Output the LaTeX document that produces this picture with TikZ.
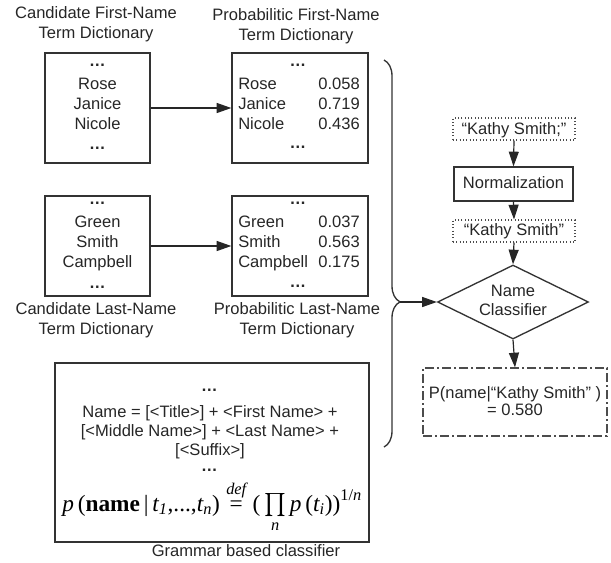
\documentclass[tikz,border=0pt]{standalone}
\usepackage{fontspec}
\usepackage{amsmath}
\setmainfont{Liberation Sans}
\newfontfamily\tms{Liberation Serif}
\newcommand\fti[1]{\text{\tms\itshape #1}}
\newcommand\ftr[1]{\text{\tms #1}}
\usetikzlibrary{shapes.geometric,arrows.meta,decorations.pathreplacing}
\tikzset{
  t/.style={font=\fontsize{12.4}{14}\selectfont, text=black!85, inner sep=0pt, text height=0.716em, text depth=0pt},
  tw/.style={t, anchor=west},
  te/.style={t, anchor=east},
  dd/.style={font=\fontsize{12.4}{14}\selectfont\bfseries, text=black!85, inner sep=0pt},
  sz/.style 2 args={minimum width=#1*0.75pt, minimum height=#2*0.75pt},
  box/.style={draw=black!80, line width=1pt, rectangle, inner sep=0pt},
  dotbox/.style={draw=black!70, line width=0.9pt, dash pattern=on 0.8pt off 1.7pt, rectangle, inner sep=0pt},
  ddbox/.style={draw=black!70, line width=0.9pt, dash pattern=on 6.75pt off 2.25pt on 1.5pt off 2.25pt, rectangle, inner sep=0pt},
  arr/.style={draw=black!85, line width=0.9pt, -{Triangle[length=11pt,width=7.5pt]}},
}
\begin{document}
\begin{tikzpicture}[x=0.75pt,y=-0.75pt]
\useasboundingbox (0,0) rectangle (611,562);

% ---- titles
\node[t] (t1a) at (96,14) {Candidate First-Name};
\node[t] (t1b) at (96,34) {Term Dictionary};
\node[t] (t2a) at (296,16) {Probabilitic First-Name};
\node[t] (t2b) at (296,36) {Term Dictionary};
\node[t] (t3a) at (96,310) {Candidate Last-Name};
\node[t] (t3b) at (96,330) {Term Dictionary};
\node[t] (t4a) at (297,310) {Probabilitic Last-Name};
\node[t] (t4b) at (297,330) {Term Dictionary};

% ---- dictionary boxes
\node[box, sz={105}{110}] (cf) at (97.5,108) {};
\node[box, sz={136}{110}] (pf) at (300,108) {};
\node[box, sz={105}{100}] (cl) at (97.5,246) {};
\node[box, sz={136}{100}] (pl) at (300,246) {};

\node[dd] (cf0) at (97.5,65) {…};
\node[t] (cf1) at (97.5,85) {Rose};
\node[t] (cf2) at (97.5,105) {Janice};
\node[t] (cf3) at (97.5,125) {Nicole};
\node[dd] (cf4) at (97.5,148) {…};

\node[dd] (pf0) at (298,65) {…};
\node[tw] (pf1) at (238,85) {Rose};
\node[tw] (pf2) at (238,105) {Janice};
\node[tw] (pf3) at (238,125) {Nicole};
\node[te] (pv1) at (360,85) {0.058};
\node[te] (pv2) at (360,105) {0.719};
\node[te] (pv3) at (360,125) {0.436};
\node[dd] (pf4) at (298,147) {…};

\node[dd] (cl0) at (97.5,203) {…};
\node[t] (cl1) at (97.5,223) {Green};
\node[t] (cl2) at (97.5,243) {Smith};
\node[t] (cl3) at (97.5,263) {Campbell};
\node[dd] (cl4) at (97.5,287) {…};

\node[dd] (pl0) at (298,203) {…};
\node[tw] (pl1) at (238,223) {Green};
\node[tw] (pl2) at (238,243) {Smith};
\node[tw] (pl3) at (238,263) {Campbell};
\node[te] (lv1) at (360,223) {0.037};
\node[te] (lv2) at (360,243) {0.563};
\node[te] (lv3) at (360,263) {0.175};
\node[dd] (pl4) at (298,286) {…};

\draw[arr] (cf.east) -- (pf.west);
\draw[arr] (cl.east) -- (pl.west);

% ---- grammar box
\node[box, sz={314}{179}] (gb) at (212,452.5) {};
\node[dd] (g0) at (209.5,390) {…};
\node[t] (g1) at (210,413) {Name = [<Title>] + <First Name> +};
\node[t] (g2) at (210,432) {[<Middle Name>] + <Last Name> +};
\node[t] (g3) at (210,451) {[<Suffix>]};
\node[dd] (g4) at (209.5,470) {…};
\node[anchor=base west, inner sep=0pt, text=black] (gf) at (62,511)
  {\fontsize{17.5}{20}\selectfont $\fti{p}\,\ftr{(}\text{\tms\bfseries name}\,\ftr{|}\,\fti{t}_{\fti{1}}\ftr{,...,}\fti{t}_{\fti{n}}\ftr{)}\stackrel{\fti{def}}{\ftr{=}}\ftr{(}\prod\limits_{\fti{n}}\fti{p}\,\ftr{(}\fti{t}_{\fti{i}}\ftr{))}^{\ftr{1/}\fti{n}}$};
\node[t] (gc) at (246,552) {Grammar based classifier};

% ---- brace
\draw[draw=black!80, line width=1pt, decorate, decoration={brace, amplitude=12pt, aspect=0.625}]
  (384,60) -- (384,447);
\coordinate (bt) at (400,302);

% ---- right column
\node[dotbox, sz={122}{22}] (k1) at (514,129) {};
\node[t] (k1t) at (514,130) {“Kathy Smith;”};
\node[box, sz={119}{34}] (nm) at (513.5,184) {};
\node[t] (nmt) at (513.5,184) {Normalization};
\node[dotbox, sz={122}{22}] (k2) at (514,231) {};
\node[t] (k2t) at (514,231) {“Kathy Smith”};
\node[draw=black!80, line width=1pt, diamond, inner sep=0pt, sz={151}{74}] (dia) at (513,302) {};
\node[t] (dt1) at (513,291.5) {Name};
\node[t] (dt2) at (513,311) {Classifier};
\node[ddbox, sz={184}{68}] (out) at (515,402) {};
\node[t] (o1) at (515,394) {P(name|“Kathy Smith” )};
\node[t] (o2) at (515,410.5) {= 0.580};

\draw[arr] (k1.south) -- (nm.north);
\draw[arr] (nm.south) -- (k2.north);
\draw[arr] (k2.south) -- (dia.north);
\draw[arr] (dia.south) -- (out.north);
\draw[arr] (bt) -- (dia.west);
\end{tikzpicture}
\end{document}
